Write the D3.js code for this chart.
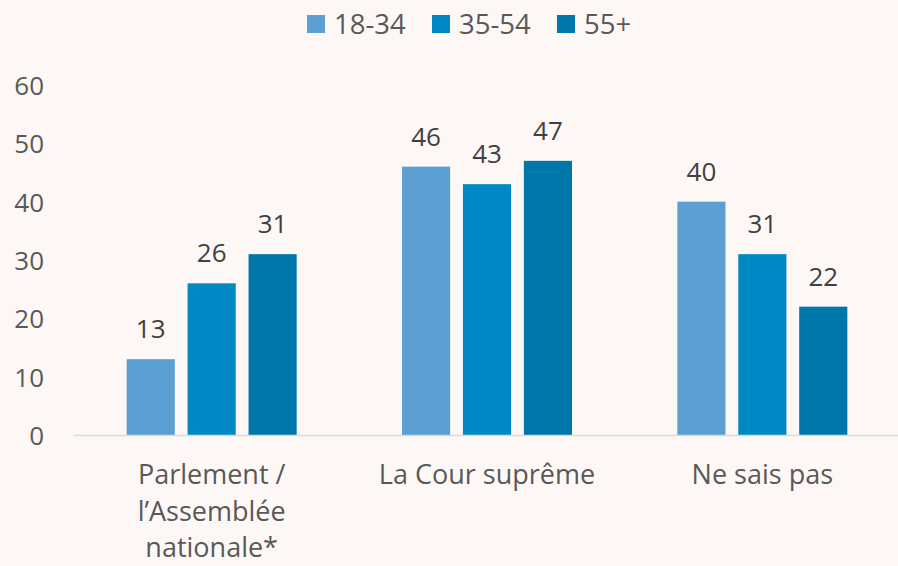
<!DOCTYPE html>
<html lang="fr">
<head>
<meta charset="UTF-8">
<title>chart</title>
<script src="https://cdn.jsdelivr.net/npm/d3@7"></script>
<style>
    body { margin:0; background:#fdf8f5; }
    svg text { font-family: "Open Sans", Lato, sans-serif; }
    .tick text { fill:#595959; font-size:26px; }
    .val { fill:#404040; font-size:26px; text-anchor:middle; }
    .cat { fill:#595959; font-size:27px; text-anchor:middle; }
    .leg { fill:#595959; font-size:27.5px; }
</style>
</head>
<body>
<div id="chart"></div>
<script>
    // donnees
    var categories = [["Parlement /", "l\u2019Assemblée", "nationale*"], ["La Cour suprême"], ["Ne sais pas"]];
    var series = ["18-34", "35-54", "55+"];
    var v1834 = [13, 46, 40];
    var v3554 = [26, 43, 31];
    var v55 = [31, 47, 22];
    var yTicks = [0, 10, 20, 30, 40, 50, 60];
    var colors = ["#5b9fd3", "#0088c4", "#0077aa"];

    var W = 898, H = 566;
    var svg = d3.select("#chart").append("svg")
        .attr("width", W).attr("height", H);
    svg.append("rect").attr("width", W).attr("height", H).attr("fill", "#fdf8f5");

    var y = d3.scaleLinear().domain([0, 60]).range([435, 85]);
    var x0 = d3.scaleBand().domain([0, 1, 2]).range([74, 900]).paddingInner(0).paddingOuter(0);
    var x1 = d3.scaleBand().domain([0, 1, 2]).range([0, 170]).paddingInner(0.21).paddingOuter(0);

    var data = [v1834, v3554, v55];

    // axe y (sans ligne)
    var yAxis = svg.append("g").attr("transform", "translate(44,0)")
        .call(d3.axisLeft(y).tickValues(yTicks).tickSize(0).tickPadding(0));
    yAxis.select(".domain").remove();
    yAxis.selectAll("text").attr("dy", "0.36em");

    // barres
    var groups = svg.selectAll(".grp").data([0, 1, 2]).enter().append("g")
        .attr("class", "grp")
        .attr("transform", function (c) { return "translate(" + (x0(c) + x0.bandwidth() / 2 - 85) + ",0)"; });

    groups.each(function (c) {
        var g = d3.select(this);
        series.forEach(function (s, i) {
            var v = data[i][c];
            g.append("rect")
                .attr("x", x1(i)).attr("width", x1.bandwidth())
                .attr("y", y(v)).attr("height", y(0) - y(v))
                .attr("fill", colors[i]);
            g.append("text").attr("class", "val")
                .attr("x", x1(i) + x1.bandwidth() / 2)
                .attr("y", y(v) - 21)
                .text(v);
        });
    });

    // ligne de base
    svg.append("line").attr("x1", 74).attr("x2", 898)
        .attr("y1", y(0) + 0.5).attr("y2", y(0) + 0.5)
        .attr("stroke", "#d9d9d9").attr("stroke-width", 1.5);

    // libelles categories
    categories.forEach(function (lines, c) {
        var t = svg.append("text").attr("class", "cat")
            .attr("x", x0(c) + x0.bandwidth() / 2).attr("y", 484);
        lines.forEach(function (l, k) {
            t.append("tspan").attr("x", x0(c) + x0.bandwidth() / 2)
                .attr("y", 484 + k * 36.5).text(l);
        });
    });

    // legende
    var legX = [307, 432, 557];
    series.forEach(function (s, i) {
        svg.append("rect").attr("x", legX[i]).attr("y", 15)
            .attr("width", 18).attr("height", 18).attr("fill", colors[i]);
        svg.append("text").attr("class", "leg")
            .attr("x", legX[i] + 27).attr("y", 24).attr("dy", "0.36em").text(s);
    });
</script>
</body>
</html>
